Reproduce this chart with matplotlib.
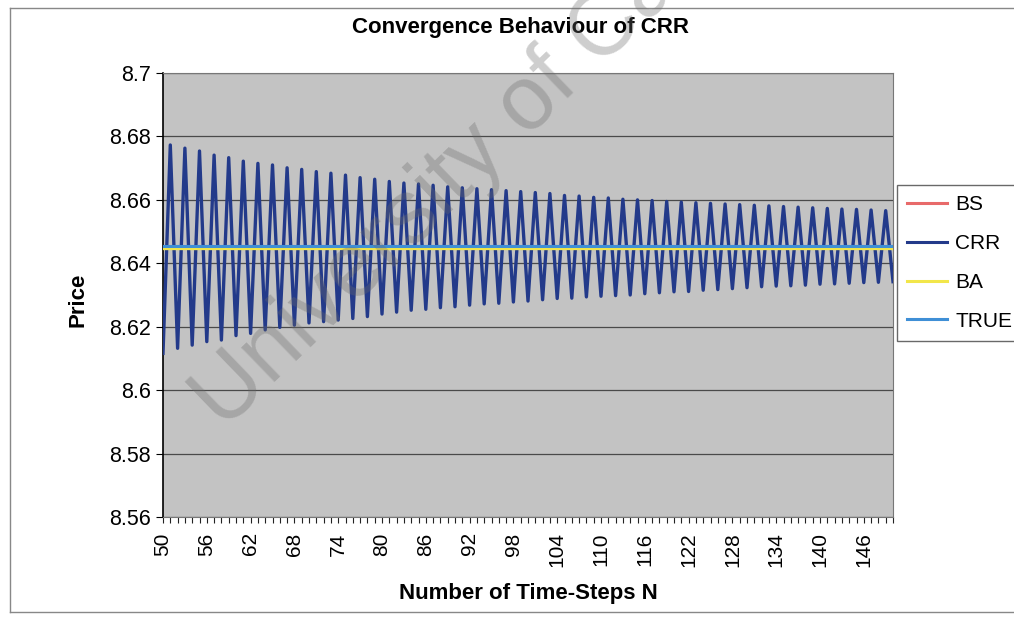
import numpy as np
import matplotlib

matplotlib.use("Agg")
import matplotlib.pyplot as plt  # noqa: E402
import matplotlib.ticker as ticker  # noqa: E402
from matplotlib.lines import Line2D  # noqa: E402

plt.rcParams["font.family"] = ["Liberation Sans", "DejaVu Sans"]

# Time steps N = 50 .. 150
steps = list(range(50, 151))

# CRR price at odd N (the peaks), N = 51, 53, ..., 149
crr_odd = [
    8.6773, 8.6763, 8.6754, 8.6741, 8.6733, 8.6722, 8.6715, 8.6710, 8.6701, 8.6696,
    8.6689, 8.6684, 8.6678, 8.6670, 8.6665, 8.6658, 8.6653, 8.6650, 8.6646, 8.6641,
    8.6638, 8.6635, 8.6632, 8.6629, 8.6626, 8.6623, 8.6620, 8.6614, 8.6612, 8.6608,
    8.6606, 8.6602, 8.6600, 8.6598, 8.6595, 8.6593, 8.6591, 8.6589, 8.6587, 8.6585,
    8.6583, 8.6581, 8.6579, 8.6577, 8.6575, 8.6573, 8.6571, 8.6570, 8.6568, 8.6566,
]
# CRR price at even N (the troughs), N = 50, 52, ..., 150
crr_even = [
    8.6116, 8.6132, 8.6142, 8.6153, 8.6158, 8.6172, 8.6179, 8.6190, 8.6198, 8.6205,
    8.6212, 8.6216, 8.6221, 8.6226, 8.6232, 8.6240, 8.6246, 8.6252, 8.6255, 8.6260,
    8.6263, 8.6268, 8.6272, 8.6274, 8.6278, 8.6281, 8.6285, 8.6289, 8.6290, 8.6294,
    8.6296, 8.6298, 8.6300, 8.6304, 8.6307, 8.6310, 8.6311, 8.6315, 8.6317, 8.6320,
    8.6323, 8.6326, 8.6328, 8.6329, 8.6331, 8.6334, 8.6335, 8.6337, 8.6339, 8.6340,
    8.6342,
]
bs_price = 8.6456
ba_price = 8.6447
true_price = 8.6456

series_names = ["BS", "CRR", "BA", "TRUE"]
series_colors = ["#e86a6a", "#233a8a", "#f2e64a", "#3f8fd6"]

crr = np.empty(len(steps))
crr[0::2] = crr_even
crr[1::2] = crr_odd
n = np.array(steps)

fig = plt.figure(figsize=(10.14, 6.2), dpi=100)
ax = fig.add_axes([163 / 1014, 1 - 517 / 620, 730 / 1014, 444 / 620])
ax.set_facecolor("#c3c3c3")

ax.plot(n, np.full(len(n), bs_price), color=series_colors[0], lw=2.2, zorder=3)
ax.plot(n, crr, color=series_colors[1], lw=2.4, zorder=4)
ax.plot(n, np.full(len(n), ba_price), color=series_colors[2], lw=2.4, zorder=5)
ax.plot(n, np.full(len(n), true_price), color=series_colors[3], lw=2.2, zorder=6)

ax.set_xlim(50, 150)
ax.set_ylim(8.56, 8.70)
ax.yaxis.set_major_locator(ticker.MultipleLocator(0.02))
ax.yaxis.set_major_formatter(ticker.FuncFormatter(lambda v, p: f"{v:.2f}".rstrip("0")))
ax.xaxis.set_major_locator(ticker.FixedLocator(list(range(50, 150, 6))))
ax.xaxis.set_minor_locator(ticker.MultipleLocator(1))
ax.grid(True, axis="y", color="#4a4a4a", lw=0.9)
ax.set_axisbelow(True)

ax.tick_params(axis="y", labelsize=15.5, length=5, direction="out", color="black", pad=4)
ax.tick_params(axis="x", which="both", length=4, direction="out", color="#222222", width=0.8)
ax.tick_params(axis="x", which="major", labelsize=15, labelrotation=90, pad=7)

for side in ["top", "right", "bottom"]:
    ax.spines[side].set_color("#777777")
ax.spines["left"].set_color("black")
ax.spines["left"].set_linewidth(1.2)

fig.text(520 / 1014, 1 - 28 / 620, "Convergence Behaviour of CRR",
         ha="center", va="center", fontsize=16, fontweight="bold")
fig.text(78 / 1014, 1 - 300 / 620, "Price", ha="center", va="center",
         rotation=90, fontsize=16, fontweight="bold")
fig.text(528 / 1014, 1 - 594 / 620, "Number of Time-Steps N", ha="center",
         va="center", fontsize=16, fontweight="bold")

# scanned watermark running off the top edge
fig.text(224 / 1014, 1 - 431 / 620, "University of Cape Town", ha="left",
         va="baseline", rotation=44, rotation_mode="anchor", fontsize=65,
         color="#6a6a6a", alpha=0.33)

# outer chart border
fig.add_artist(Line2D([10 / 1014, 10 / 1014], [8 / 620, 1 - 8 / 620],
                      transform=fig.transFigure, color="#888888", lw=1))
fig.add_artist(Line2D([10 / 1014, 1], [1 - 8 / 620, 1 - 8 / 620],
                      transform=fig.transFigure, color="#888888", lw=1))
fig.add_artist(Line2D([10 / 1014, 1], [8 / 620, 8 / 620],
                      transform=fig.transFigure, color="#888888", lw=1))

handles = [Line2D([], [], color=c, lw=2.2) for c in series_colors]
leg = fig.legend(handles, series_names, loc="upper left",
                 bbox_to_anchor=(897 / 1014, 1 - 185 / 620), fontsize=15,
                 frameon=True, fancybox=False, handlelength=1.9,
                 handletextpad=0.4, labelspacing=0.95, borderpad=0.5,
                 borderaxespad=0)
leg.get_frame().set_edgecolor("#444444")
leg.get_frame().set_linewidth(1.0)

fig.savefig("out.png", dpi=100)
